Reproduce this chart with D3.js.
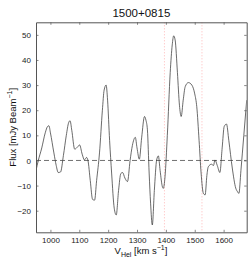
<!DOCTYPE html>
<html>
<head>
<meta charset="utf-8">
<script src="https://cdn.jsdelivr.net/npm/d3@7"></script>
<style>
  body { margin: 0; background: #fff; }
  svg { display: block; font-family: "Liberation Sans", Arial, sans-serif; }
</style>
</head>
<body>
<svg id="chart" width="249" height="265"></svg>
<script>
// spectrum: heliocentric velocity (km/s) and flux (mJy/beam)
const velocity = [950, 958, 970, 982, 990, 995, 1000, 1012, 1020, 1027, 1035, 1045, 1055, 1063, 1068,
  1074, 1084, 1095, 1101, 1110, 1118, 1125, 1130, 1138, 1146, 1153, 1160, 1170, 1180, 1186, 1193,
  1198, 1205, 1212, 1221, 1228, 1236, 1244, 1250, 1258, 1267, 1276, 1284, 1294, 1300, 1308, 1316,
  1326, 1331, 1336, 1342, 1347, 1353, 1360, 1368, 1374, 1380, 1388, 1391, 1397, 1405, 1415, 1422,
  1427, 1432, 1440, 1447, 1453, 1460, 1467, 1478, 1490, 1500, 1507, 1515, 1522, 1530, 1536, 1542,
  1547, 1558, 1565, 1570, 1578, 1587, 1595, 1602, 1610, 1618, 1630, 1642, 1648, 1653, 1660, 1670, 1680]
const flux = [-4, 0, 5, 11, 13.5, 13.8, 11, 3, -2, -4.8, -4.6, 2, 10, 15, 15.8,
  12, 4.5, 5.5, 6.2, 2.5, 0.2, 1.2, 0, -8, -15.5, -15.8, -8, 3, 20, 28, 30,
  24, 8, -5, -19, -21.7, -12, -5.2, -4.8, -7, -8.4, 0, 6, 9.2, 5, 0.5, 9,
  17.5, 16, 12.2, -5, -17, -25.7, -12, 0.2, 1.8, -4, -10.5, -11.1, -6.5, 10, 35, 46,
  49.6, 48, 35, 22, 17.5, 24, 29.4, 31, 30, 26.5, 21.4, 8, -5, -13.1, -13.7, -6,
  -2.5, -1.5, -2, 0.2, -2, -4.8, 5, 13.5, 14.5, 8, -3, -11, -12.4, -13.1, -4, 10, 24]

const xTicks = [1000, 1100, 1200, 1300, 1400, 1500, 1600]
const yTicks = [-20, -10, 0, 10, 20, 30, 40, 50]
const markerLines = [1395, 1525]
const title = '1500+0815'

const svg = d3.select('#chart')
const plotLeft = 36, plotRight = 246.7, plotTop = 22.3, plotBottom = 232.3

const x = d3.scaleLinear().domain([950, 1680]).range([plotLeft, plotRight])
const y = d3.scaleLinear().domain([-28.6, 55]).range([plotBottom, plotTop])

const data = velocity.map((v, i) => ({v, f: flux[i]}))

// clip for the spectrum
svg.append('clipPath').attr('id', 'plotClip')
  .append('rect')
  .attr('x', plotLeft).attr('y', plotTop)
  .attr('width', plotRight - plotLeft).attr('height', plotBottom - plotTop)

const plot = svg.append('g').attr('clip-path', 'url(#plotClip)')

// dotted velocity markers
plot.selectAll('line.marker')
  .data(markerLines)
  .enter().append('line')
  .attr('class', 'marker')
  .attr('x1', d => x(d)).attr('x2', d => x(d))
  .attr('y1', plotTop).attr('y2', plotBottom)
  .attr('stroke', '#ffb0b0')
  .attr('stroke-width', 0.9)
  .attr('stroke-dasharray', '1,2')

// zero line
plot.append('line')
  .attr('x1', plotLeft).attr('x2', plotRight)
  .attr('y1', y(0)).attr('y2', y(0))
  .attr('stroke', '#333')
  .attr('stroke-width', 0.7)
  .attr('stroke-dasharray', '5,3')

// spectrum
plot.append('path')
  .datum(data)
  .attr('fill', 'none')
  .attr('stroke', '#3a3a3a')
  .attr('stroke-width', 0.75)
  .attr('stroke-linejoin', 'round')
  .attr('d', d3.line().x(d => x(d.v)).y(d => y(d.f)).curve(d3.curveMonotoneX))

// axes, ticks inside like matlab
const axisColor = '#555'
const tickLen = 2.5

const xBottom = svg.append('g')
  .attr('transform', `translate(0,${plotBottom})`)
  .call(d3.axisBottom(x).tickValues(xTicks).tickFormat(d3.format('d'))
    .tickSizeInner(-tickLen).tickSizeOuter(0).tickPadding(5))
const xTop = svg.append('g')
  .attr('transform', `translate(0,${plotTop})`)
  .call(d3.axisTop(x).tickValues(xTicks).tickSizeInner(-tickLen).tickSizeOuter(0).tickFormat(''))
const yLeft = svg.append('g')
  .attr('transform', `translate(${plotLeft},0)`)
  .call(d3.axisLeft(y).tickValues(yTicks).tickSizeInner(-tickLen).tickSizeOuter(0).tickPadding(5))
const yRight = svg.append('g')
  .attr('transform', `translate(${plotRight},0)`)
  .call(d3.axisRight(y).tickValues(yTicks).tickSizeInner(-tickLen).tickSizeOuter(0).tickFormat(''))

;[xBottom, xTop, yLeft, yRight].forEach(g => {
  g.selectAll('path.domain').attr('stroke', axisColor).attr('stroke-width', 1)
  g.selectAll('.tick line').attr('stroke', axisColor).attr('stroke-width', 0.7)
  g.selectAll('.tick text')
    .attr('fill', '#222')
    .style('font-size', '8px')
    .style('font-family', '"Liberation Sans", Arial, sans-serif')
})

// title
svg.append('text')
  .attr('x', (plotLeft + plotRight) / 2)
  .attr('y', 16.5)
  .attr('text-anchor', 'middle')
  .style('font-size', '11.5px')
  .attr('fill', '#111')
  .text(title)

// x label: V_Hel [km s^-1]
const xLabel = svg.append('text')
  .attr('x', 141)
  .attr('y', 254)
  .attr('text-anchor', 'middle')
  .style('font-size', '9.5px')
  .attr('fill', '#111')
xLabel.append('tspan').text('V')
xLabel.append('tspan').attr('dy', 3).style('font-size', '7px').text('Hel')
xLabel.append('tspan').attr('dy', -3).text(' [km s')
xLabel.append('tspan').attr('dy', -4).style('font-size', '7px').text('−1')
xLabel.append('tspan').attr('dy', 4).text(']')

// y label: Flux [mJy Beam^-1]
const yLabel = svg.append('text')
  .attr('transform', `translate(15.5,${(plotTop + plotBottom) / 2}) rotate(-90)`)
  .attr('text-anchor', 'middle')
  .style('font-size', '9.5px')
  .attr('fill', '#111')
yLabel.append('tspan').text('Flux [mJy Beam')
yLabel.append('tspan').attr('dy', -4).style('font-size', '7px').text('−1')
yLabel.append('tspan').attr('dy', 4).text(']')
</script>
</body>
</html>
